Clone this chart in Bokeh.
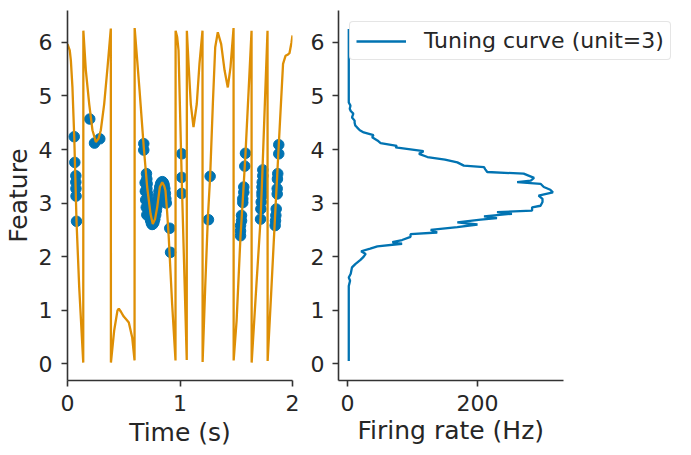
from bokeh.plotting import figure
from bokeh.layouts import row
from bokeh.models import Range1d, FixedTicker, Legend, LegendItem, Title
from bokeh.embed import file_html
from bokeh.resources import INLINE

# ---------------- data ----------------
# feature trajectory (wrapped angle) over time
time_s = [0.000, 0.020, 0.030, 0.044, 0.060, 0.080, 0.104, 0.140,
          0.141, 0.163, 0.193, 0.222, 0.252, 0.275, 0.296, 0.326, 0.356, 0.385,
          0.386, 0.415, 0.444, 0.456, 0.475, 0.500, 0.525, 0.545, 0.575, 0.596,
          0.597, 0.640, 0.678, 0.708, 0.738, 0.758, 0.778, 0.797, 0.821, 0.842,
          0.860, 0.871, 0.885, 0.900, 0.930, 0.960,
          0.961, 0.975, 0.987, 1.016, 1.060,
          1.061, 1.076, 1.096, 1.120, 1.149, 1.173, 1.200,
          1.201, 1.224, 1.247, 1.268, 1.292, 1.313, 1.336, 1.366, 1.396, 1.425, 1.449, 1.476,
          1.477, 1.503, 1.538, 1.558, 1.582, 1.610, 1.636,
          1.637, 1.680, 1.716, 1.733, 1.755, 1.778,
          1.779, 1.810, 1.840, 1.878, 1.916, 1.938, 1.956, 1.973, 1.991, 2.000]
feature = [5.97, 5.85, 5.66, 5.16, 4.23, 2.67, 1.43, 0.02,
           6.22, 5.48, 4.85, 4.36, 4.14, 4.20, 4.36, 4.85, 5.54, 6.26,
           0.02, 0.62, 0.99, 1.03, 0.97, 0.88, 0.82, 0.77, 0.49, 0.06,
           6.27, 5.12, 4.04, 3.30, 2.80, 2.61, 2.70, 2.92, 3.30, 3.39,
           3.32, 3.23, 2.85, 2.36, 1.12, 0.06,
           6.22, 6.10, 5.85, 3.40, 0.07,
           6.22, 5.60, 4.85, 4.42, 4.85, 5.60, 6.22,
           0.03, 1.43, 2.69, 3.50, 4.85, 5.91, 6.19, 5.97, 5.48, 5.16, 5.54, 6.27,
           0.06, 0.80, 2.39, 3.05, 3.92, 5.10, 6.22,
           0.02, 1.50, 2.69, 3.61, 4.90, 6.22,
           0.05, 1.30, 2.55, 4.09, 5.60, 5.75, 5.77, 5.80, 6.00, 6.13]

# spikes of unit 3: (time, feature at spike)
spike_t = [0.060, 0.065, 0.074, 0.074, 0.075, 0.076, 0.080, 0.198, 0.240, 0.287,
           0.678, 0.678, 0.702, 0.705, 0.708, 0.706, 0.711, 0.714, 0.718, 0.722,
           0.727, 0.732, 0.738, 0.745, 0.752, 0.760, 0.768, 0.776, 0.784, 0.790,
           0.796, 0.801, 0.807, 0.813, 0.820, 0.828, 0.836, 0.844, 0.852, 0.859,
           0.865, 0.870, 0.874, 0.878, 0.909, 0.916,
           0.690, 0.692, 0.695, 0.700, 0.705,
           1.016, 1.016, 1.016, 1.253, 1.268,
           1.582, 1.576, 1.567, 1.567, 1.558, 1.558, 1.547, 1.547, 1.538, 1.538, 1.538,
           1.736, 1.736, 1.731, 1.729, 1.729, 1.729, 1.722, 1.719, 1.716,
           1.878, 1.878, 1.869, 1.866, 1.864, 1.864, 1.855, 1.852, 1.849, 1.846]
spike_f = [4.24, 3.76, 3.51, 3.39, 3.27, 3.13, 2.66, 4.57, 4.12, 4.20,
           4.11, 3.99, 3.55, 3.45, 3.36, 3.27, 3.18, 3.09, 3.00, 2.92,
           2.84, 2.76, 2.68, 2.63, 2.60, 2.61, 2.64, 2.70, 2.78, 2.86,
           2.94, 3.04, 3.13, 3.22, 3.30, 3.36, 3.39, 3.40, 3.38, 3.34,
           3.27, 3.18, 3.08, 3.00, 2.53, 2.08,
           3.38, 3.22, 3.06, 2.92, 2.78,
           3.92, 3.48, 3.18, 2.69, 3.50,
           3.93, 3.69, 3.30, 3.20, 3.08, 3.01, 2.77, 2.67, 2.58, 2.48, 2.39,
           3.62, 3.51, 3.39, 3.30, 3.20, 3.14, 3.02, 2.89, 2.70,
           4.09, 3.92, 3.55, 3.45, 3.27, 3.17, 2.89, 2.77, 2.67, 2.58]

# tuning curve of unit 3
tc_feature = [0.05, 1.40, 1.45, 1.50, 1.55, 1.61, 1.68, 1.74, 1.80, 1.86,
              1.94, 2.00, 2.05, 2.10, 2.15, 2.19, 2.24, 2.27, 2.31, 2.37,
              2.42, 2.45, 2.50, 2.55, 2.60, 2.64, 2.69, 2.72, 2.75, 2.80,
              2.83, 2.86, 2.92, 2.95, 3.02, 3.08, 3.14, 3.20, 3.25, 3.30,
              3.36, 3.39, 3.42, 3.47, 3.55, 3.58, 3.63, 3.67, 3.70, 3.76,
              3.81, 3.86, 3.92, 3.97, 4.04, 4.07, 4.12, 4.17, 4.23, 4.27,
              4.32, 4.36, 4.41, 4.45, 4.50, 4.54, 4.60, 4.67, 4.72, 4.76,
              4.82, 4.88, 6.25]
tc_rate = [2, 2, 2, 3, 4, 2, 5, 6, 7, 12,
           20, 25, 28, 21, 35, 46, 84, 69, 84, 97,
           97, 138, 128, 169, 200, 169, 205, 230, 210, 253,
           230, 284, 284, 297, 300, 300, 294, 316, 312, 302,
           297, 261, 282, 287, 271, 215, 212, 210, 179, 169,
           150, 123, 110, 117, 74, 76, 51, 46, 38, 40,
           25, 19, 15, 12, 11, 11, 7, 9, 5, 3.5,
           4.6, 2, 2]

left_xticks = [0, 1, 2]
right_xticks = [0, 200]
yticks = [0, 1, 2, 3, 4, 5, 6]

# ---------------- style ----------------
BLUE = "#0173b2"
ORANGE = "#de8f05"
FONT = "DejaVu Sans"
TXT = "#262626"
AX = "#333333"


def style(p):
    p.xgrid.visible = False
    p.ygrid.visible = False
    p.outline_line_color = None
    p.background_fill_color = "white"
    p.border_fill_color = "white"
    for ax in p.axis:
        ax.axis_line_color = AX
        ax.axis_line_width = 1.6
        ax.major_tick_line_color = AX
        ax.major_tick_line_width = 1.6
        ax.major_tick_out = 6
        ax.major_tick_in = 0
        ax.minor_tick_line_color = None
        ax.major_label_text_font = FONT
        ax.major_label_text_font_size = "22px"
        ax.major_label_text_color = TXT
        ax.major_label_standoff = 8
        ax.axis_label_text_font = FONT
        ax.axis_label_text_font_size = "25px"
        ax.axis_label_text_color = TXT
        ax.axis_label_text_font_style = "normal"
        ax.axis_label_standoff = 4


YR = (-0.314, 6.597)

p1 = figure(frame_width=225, frame_height=370,
            x_range=Range1d(0, 2), y_range=Range1d(*YR),
            output_backend="svg", toolbar_location=None,
            min_border_left=59, min_border_right=10,
            min_border_top=10, min_border_bottom=60)
style(p1)
p1.xaxis.ticker = FixedTicker(ticks=left_xticks)
p1.yaxis.ticker = FixedTicker(ticks=yticks)
p1.xaxis.axis_label = "Time (s)"
p1.xaxis.axis_label_standoff = 4
p1.yaxis.axis_label = "Feature"
p1.yaxis.major_label_standoff = 9
p1.yaxis.axis_label_standoff = 3
p1.scatter(spike_t, spike_f, size=10.5, color=BLUE)
p1.line(time_s, feature, color=ORANGE, line_width=2.3)

# right panel: frame wider than the drawn axis so the legend can overhang
RATE_LO, RATE_HI = -13.8, 332.3
p2 = figure(frame_width=334, frame_height=370,
            x_range=Range1d(RATE_LO, RATE_LO + (RATE_HI - RATE_LO) * 334 / 225),
            y_range=Range1d(*YR),
            output_backend="svg", toolbar_location=None,
            min_border_left=36, min_border_right=2,
            min_border_top=10, min_border_bottom=60)
style(p2)
p2.xaxis.ticker = FixedTicker(ticks=right_xticks)
p2.xaxis.bounds = (RATE_LO, RATE_HI)
p2.yaxis.ticker = FixedTicker(ticks=yticks)
p2.add_layout(Title(text="Firing rate (Hz)", align="left", offset=19, standoff=0,
                    text_font=FONT, text_font_size="25px", text_font_style="normal",
                    text_color=TXT), "below")
r = p2.line(tc_rate, tc_feature, color=BLUE, line_width=2.3)

legend = Legend(items=[LegendItem(label="Tuning curve (unit=3)", renderers=[r])],
                location="top_left", margin=11, padding=6, spacing=0,
                glyph_width=50, glyph_height=20, label_standoff=18, label_height=24,
                label_text_font=FONT, label_text_font_size="22px", label_text_color=TXT,
                border_line_color="#cccccc", border_line_width=1, border_radius=4,
                background_fill_color="white", background_fill_alpha=0.8)
p2.add_layout(legend)

layout = row(p1, p2, spacing=0)

with open("out.html", "w") as f:
    f.write(file_html(layout, INLINE))
